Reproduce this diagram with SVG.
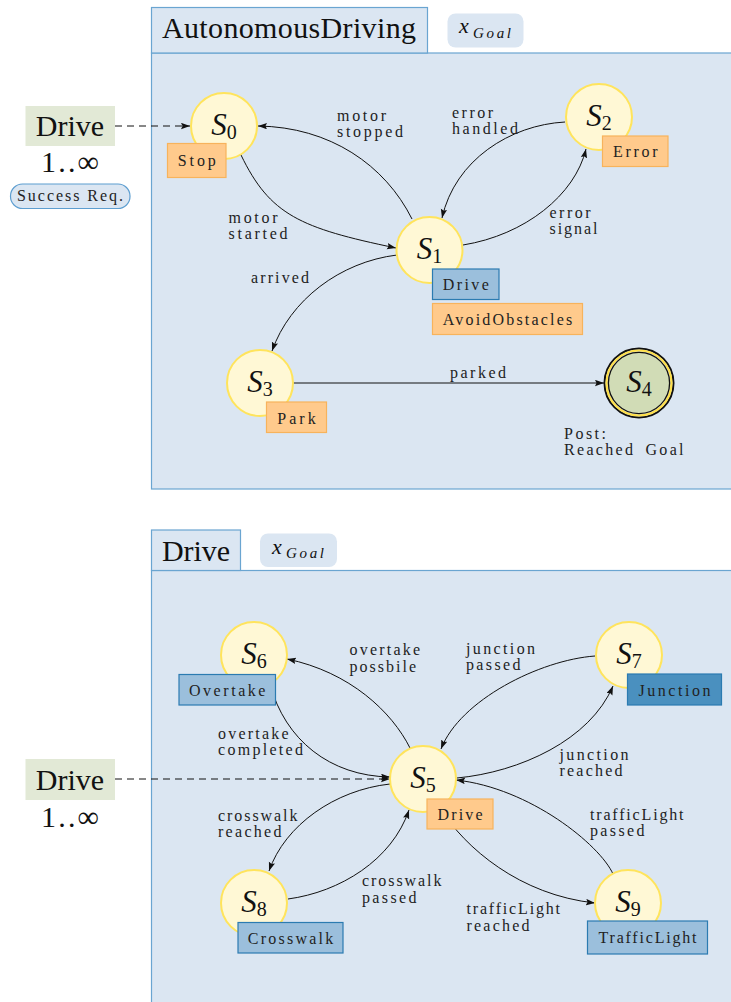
<svg xmlns="http://www.w3.org/2000/svg" width="731" height="1002" viewBox="0 0 731 1002">
  <style>
    .panel{fill:#dbe6f2;stroke:#6aa5d1;stroke-width:1.2}
    .pill{fill:#dbe6f2}
    .big{font-family:"Liberation Serif","Times New Roman",serif;font-size:30px;fill:#111}
    .math{font-family:"Liberation Serif","Times New Roman",serif;font-style:italic;fill:#111}
    .state{fill:#fff8d5;stroke:#ffe45c;stroke-width:2}
    .sname{font-family:"Liberation Serif","Times New Roman",serif;font-style:italic;font-size:31px;fill:#111}
    .sub{font-style:normal;font-size:20px}
    .lbl{font-family:"Liberation Serif","Times New Roman",serif;font-size:16px;fill:#222}
    .mid{text-anchor:middle}
    .act{fill:#ffca8c;stroke:#f7b35c;stroke-width:1.2}
    .beh{fill:#9bbfdc;stroke:#2b7bb1;stroke-width:1.2}
    .beh2{fill:#4a90bf;stroke:#2b7bb1;stroke-width:1.2}
    .ref{fill:#e2e9d6}
    .edge{fill:none;stroke:#111;stroke-width:1;marker-end:url(#arr)}
    .dash{stroke-dasharray:7 5}
  </style>
  <defs>
    <marker id="arr" markerUnits="userSpaceOnUse" markerWidth="10" markerHeight="8" refX="9" refY="3.2" orient="auto">
      <path d="M0,0 L9,3.2 L0,6.4 L1.5,3.2 Z" fill="#111"/>
    </marker>
  </defs>

  <!-- ===== Upper state machine: AutonomousDriving ===== -->
  <g id="panel-autonomous">
    <rect class="panel" x="151.5" y="53" width="600" height="436"/>
    <rect class="panel" x="151.5" y="7.5" width="276" height="45.5"/>
    <text class="big" x="162" y="37.5" textLength="254">AutonomousDriving</text>
    <rect class="pill" x="447.5" y="13.5" width="76" height="34" rx="8"/>
    <text class="math" x="459" y="33" font-size="22">x</text>
    <text class="math" x="473" y="37.5" font-size="15" textLength="38">Goal</text>
  </g>

  <g id="ref-drive-top">
    <rect class="ref" x="25.5" y="106" width="89.5" height="40"/>
    <text class="big mid" x="70" y="136">Drive</text>
    <text class="big mid" x="70" y="172" textLength="58">1..∞</text>
    <rect x="10.5" y="184" width="119.5" height="24.5" rx="12" fill="#dbe6f2" stroke="#5d9ed0" stroke-width="1.2"/>
    <text class="lbl mid" x="70" y="200.5" textLength="106">Success Req.</text>
  </g>

  <!-- ===== Lower state machine: Drive ===== -->
  <g id="panel-drive">
    <rect class="panel" x="151.5" y="570.5" width="600" height="450"/>
    <rect class="panel" x="151.5" y="530" width="89" height="40.5"/>
    <text class="big" x="162" y="561" textLength="68">Drive</text>
    <rect class="pill" x="260" y="533.5" width="77" height="33.5" rx="8"/>
    <text class="math" x="272" y="553.5" font-size="22">x</text>
    <text class="math" x="286" y="557.5" font-size="15" textLength="38">Goal</text>
  </g>

  <g id="ref-drive-bottom">
    <rect class="ref" x="25.5" y="759" width="89.5" height="41"/>
    <text class="big mid" x="70" y="789.5">Drive</text>
    <text class="big mid" x="70" y="827" textLength="58">1..∞</text>
  </g>

  <!-- transitions -->
  <g id="connectors">
    <path class="edge dash" d="M115,126 L190,126"/>
    <path class="edge" d="M241,155 C270,215 300,228 396,248"/>
    <path class="edge" d="M412,219 C385,165 330,127 258,126"/>
    <path class="edge" d="M463,245 C525,235 575,195 586,149"/>
    <path class="edge" d="M565,122 C510,125 455,160 442,218"/>
    <path class="edge" d="M397,255 C340,262 290,300 272,351"/>
    <path class="edge" d="M293,383 L604,383"/>

    <path class="edge dash" d="M115,779 L390,779"/>
    <path class="edge" d="M410,748 C392,712 350,672 287,659"/>
    <path class="edge" d="M270,684 C285,740 330,776 390,777"/>
    <path class="edge" d="M595,656 C540,660 460,700 441,749"/>
    <path class="edge" d="M457,778 C520,772 590,740 613,686"/>
    <path class="edge" d="M613,874 C600,845 530,788 456,780"/>
    <path class="edge" d="M440,808 C465,848 520,895 595,903"/>
    <path class="edge" d="M390,784 C335,790 285,825 269,871"/>
    <path class="edge" d="M288,899 C340,892 392,860 409,810"/>
  </g>

  <!-- transition labels -->
  <g id="edge-labels">
    <text class="lbl" x="337" y="121" textLength="49">motor</text>
    <text class="lbl" x="337" y="136.5" textLength="66">stopped</text>
    <text class="lbl" x="228.5" y="223" textLength="49">motor</text>
    <text class="lbl" x="228.5" y="238.5" textLength="59">started</text>
    <text class="lbl" x="452" y="117.5" textLength="41">error</text>
    <text class="lbl" x="452" y="133.5" textLength="66">handled</text>
    <text class="lbl" x="549.5" y="217.5" textLength="41">error</text>
    <text class="lbl" x="549.5" y="233.5" textLength="48">signal</text>
    <text class="lbl" x="251" y="283" textLength="58">arrived</text>
    <text class="lbl" x="450" y="377.5" textLength="56">parked</text>
    <text class="lbl" x="564" y="439" textLength="42">Post:</text>
    <text class="lbl" x="564" y="454.5" textLength="69">Reached</text>
    <text class="lbl" x="645.5" y="454.5" textLength="38">Goal</text>

    <text class="lbl" x="349.5" y="655" textLength="70.5">overtake</text>
    <text class="lbl" x="349.5" y="671.5" textLength="66.5">possbile</text>
    <text class="lbl" x="218" y="739" textLength="70.5">overtake</text>
    <text class="lbl" x="218" y="755" textLength="85">completed</text>
    <text class="lbl" x="466" y="653.5" textLength="69">junction</text>
    <text class="lbl" x="466" y="669.5" textLength="54.5">passed</text>
    <text class="lbl" x="559.5" y="760" textLength="69">junction</text>
    <text class="lbl" x="559.5" y="776" textLength="63">reached</text>
    <text class="lbl" x="218" y="820.5" textLength="79.5">crosswalk</text>
    <text class="lbl" x="218" y="837" textLength="63.5">reached</text>
    <text class="lbl" x="362" y="886" textLength="79.5">crosswalk</text>
    <text class="lbl" x="362" y="903" textLength="54.5">passed</text>
    <text class="lbl" x="466.5" y="914" textLength="93.5">trafficLight</text>
    <text class="lbl" x="466.5" y="930.5" textLength="63">reached</text>
    <text class="lbl" x="590" y="819.5" textLength="93.5">trafficLight</text>
    <text class="lbl" x="590" y="836" textLength="54.5">passed</text>
  </g>

  <!-- states -->
  <g id="S0">
    <circle class="state" cx="224" cy="126" r="33"/>
    <text class="sname mid" x="224" y="135">S<tspan class="sub" dy="4">0</tspan></text>
    <rect class="act" x="167.5" y="143.5" width="58.5" height="34"/>
    <text class="lbl mid" x="196.8" y="166" textLength="38">Stop</text>
  </g>
  <g id="S1">
    <circle class="state" cx="429.5" cy="250" r="33"/>
    <text class="sname mid" x="429.5" y="259">S<tspan class="sub" dy="4">1</tspan></text>
    <rect class="beh" x="432.5" y="269" width="66.5" height="30.5"/>
    <text class="lbl mid" x="465.8" y="290" textLength="46">Drive</text>
    <rect class="act" x="432.5" y="303.5" width="150" height="31"/>
    <text class="lbl mid" x="507.5" y="325" textLength="129.5">AvoidObstacles</text>
  </g>
  <g id="S2">
    <circle class="state" cx="599" cy="117" r="33"/>
    <text class="sname mid" x="599" y="126">S<tspan class="sub" dy="4">2</tspan></text>
    <rect class="act" x="602.5" y="136" width="65.5" height="30.5"/>
    <text class="lbl mid" x="635.3" y="157" textLength="44.5">Error</text>
  </g>
  <g id="S3">
    <circle class="state" cx="260" cy="383" r="33"/>
    <text class="sname mid" x="260" y="392">S<tspan class="sub" dy="4">3</tspan></text>
    <rect class="act" x="266.5" y="402" width="60" height="30.5"/>
    <text class="lbl mid" x="296.5" y="423.5" textLength="38.5">Park</text>
  </g>
  <g id="S4">
    <circle cx="639" cy="383" r="34.5" fill="none" stroke="#111" stroke-width="2"/>
    <circle cx="639" cy="383" r="32.5" fill="none" stroke="#ffe04a" stroke-width="2.2"/>
    <circle cx="639" cy="383" r="30.6" fill="#d1dcb6" stroke="#111" stroke-width="1.3"/>
    <text class="sname mid" x="639" y="392">S<tspan class="sub" dy="4">4</tspan></text>
  </g>

  <g id="S5">
    <circle class="state" cx="423" cy="779" r="33"/>
    <text class="sname mid" x="423" y="788">S<tspan class="sub" dy="4">5</tspan></text>
    <rect class="act" x="427" y="799" width="66" height="30"/>
    <text class="lbl mid" x="460" y="820" textLength="45">Drive</text>
  </g>
  <g id="S6">
    <circle class="state" cx="254" cy="655" r="33"/>
    <text class="sname mid" x="254" y="664">S<tspan class="sub" dy="4">6</tspan></text>
    <rect class="beh" x="179" y="674.5" width="96.5" height="30.5"/>
    <text class="lbl mid" x="227.2" y="695.5" textLength="76.5">Overtake</text>
  </g>
  <g id="S7">
    <circle class="state" cx="629" cy="655" r="33"/>
    <text class="sname mid" x="629" y="664">S<tspan class="sub" dy="4">7</tspan></text>
    <rect class="beh2" x="627.5" y="674" width="94" height="31"/>
    <text class="lbl mid" x="674.5" y="695.5" textLength="72">Junction</text>
  </g>
  <g id="S8">
    <circle class="state" cx="254" cy="903" r="33"/>
    <text class="sname mid" x="254" y="912">S<tspan class="sub" dy="4">8</tspan></text>
    <rect class="beh" x="238" y="922.5" width="105" height="30.5"/>
    <text class="lbl mid" x="290.5" y="943.5" textLength="85.5">Crosswalk</text>
  </g>
  <g id="S9">
    <circle class="state" cx="628" cy="903" r="33"/>
    <text class="sname mid" x="628" y="912">S<tspan class="sub" dy="4">9</tspan></text>
    <rect class="beh" x="587.5" y="921" width="120" height="33"/>
    <text class="lbl mid" x="647.5" y="943" textLength="98">TrafficLight</text>
  </g>
</svg>
